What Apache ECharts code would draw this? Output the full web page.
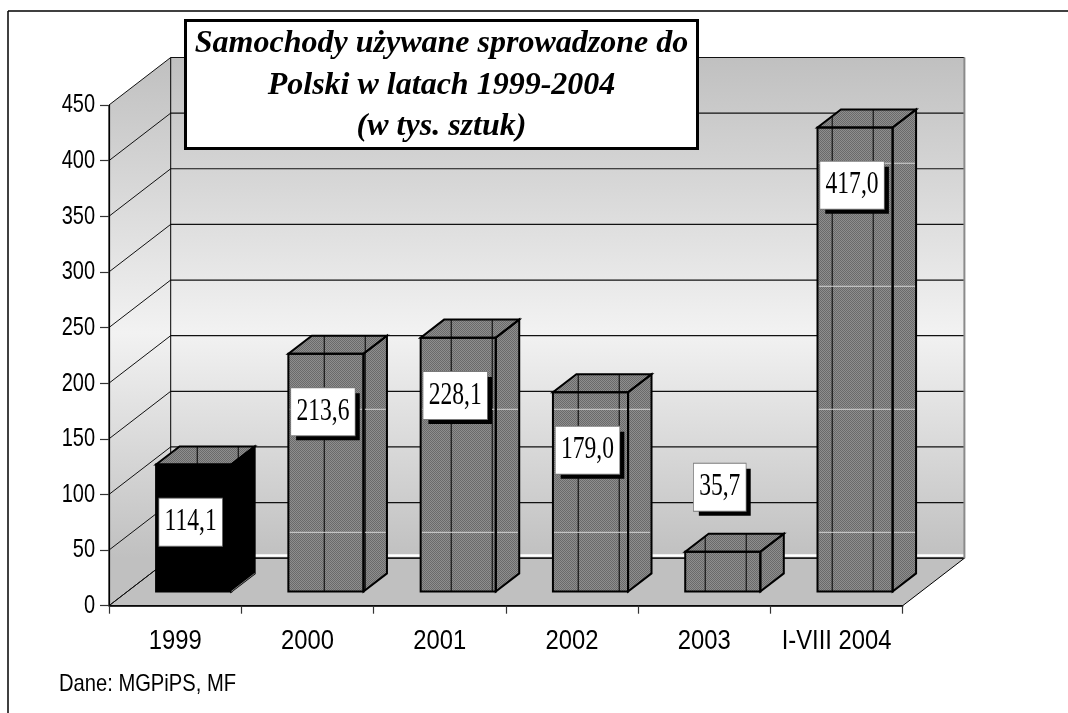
<!DOCTYPE html>
<html><head><meta charset="utf-8">
<script src="https://cdn.jsdelivr.net/npm/echarts@6/dist/echarts.min.js"></script>
<style>html,body{margin:0;padding:0;background:#fff}#c{width:1068px;height:713px}</style>
</head><body><div id="c"></div>
<script>
// ---- data ----
const categories = ['1999', '2000', '2001', '2002', '2003', 'I-VIII 2004'];
const values = [114.1, 213.6, 228.1, 179.0, 35.7, 417.0];
const yTicks = [0, 50, 100, 150, 200, 250, 300, 350, 400, 450];
const titleLines = ['Samochody używane sprowadzone do', 'Polski w latach 1999-2004', '(w tys. sztuk)'];
const sourceNote = 'Dane: MGPiPS, MF';
const highlightCategory = '1999';

// ---- 3D projection / style constants ----
const DX = 61.7, DY = 47.5;          // full depth of floor in px
const Z0 = 0.3, Z1 = 0.68;           // bar depth range
const BAR_W = 0.568;                 // bar width as share of category
const LABEL_DROP = 52, LABEL_RISE = 58;
const SANS = '"Liberation Sans", Arial, sans-serif';
const SERIF = '"Liberation Serif", "Times New Roman", serif';

function makeChecker() {
  const c = document.createElement('canvas'); c.width = 2; c.height = 2;
  const g = c.getContext('2d');
  g.fillStyle = '#8e8e8e'; g.fillRect(0, 0, 2, 2);
  g.fillStyle = '#6a6a6a'; g.fillRect(0, 0, 1, 1); g.fillRect(1, 1, 1, 1);
  return c;
}
const checker = { image: makeChecker(), repeat: 'repeat' };

function wallsRender(params, api) {
  const n = categories.length;
  const catW = api.size([1, 0])[0];
  const xL = api.coord([0, 0])[0] - catW / 2;
  const xR = api.coord([n - 1, 0])[0] + catW / 2;
  const yv = v => api.coord([0, v])[1];
  const vMax = yTicks[yTicks.length - 1];
  const y0 = yv(0), yT = yv(vMax);
  const grad = new echarts.graphic.LinearGradient(0, yT - DY, 0, y0 - DY, [
    { offset: 0, color: '#c0c0c0' }, { offset: 0.55, color: '#f2f2f2' }, { offset: 1, color: '#c0c0c0' }], true);
  const ch = [];
  ch.push({ type: 'rect', shape: { x: xL + DX, y: yT - DY, width: xR - xL, height: y0 - yT }, style: { fill: grad } });
  ch.push({ type: 'polygon', shape: { points: [[xL, yT], [xL, y0], [xL + DX, y0 - DY], [xL + DX, yT - DY]] }, style: { fill: grad } });
  ch.push({ type: 'polygon', shape: { points: [[xL, y0], [xR, y0], [xR + DX, y0 - DY], [xL + DX, y0 - DY]] }, style: { fill: '#c0c0c0', stroke: '#000', lineWidth: 1 } });
  ch.push({ type: 'line', shape: { x1: xL + DX, y1: y0 - DY - 2.8, x2: xR + DX, y2: y0 - DY - 2.8 }, style: { stroke: '#fff', lineWidth: 2.5 } });
  yTicks.forEach(v => {
    const y = yv(v);
    ch.push({ type: 'line', shape: { x1: xL, y1: y, x2: xL + DX, y2: y - DY }, style: { stroke: '#111', lineWidth: 1 } });
    ch.push({ type: 'line', shape: { x1: xL + DX, y1: y - DY, x2: xR + DX, y2: y - DY }, style: { stroke: '#111', lineWidth: 1.2 } });
    // y tick label (narrow sans)
    ch.push({ type: 'text', x: xL - 14, y: y + 0.5, scaleX: 0.8, style: { text: String(v), font: '25px ' + SANS, fill: '#000', align: 'right', verticalAlign: 'middle' } });
  });
  categories.forEach((c, i) => {
    const p = api.coord([i, 0]);
    ch.push({ type: 'text', x: p[0], y: y0 + 36, scaleX: 0.85, style: { text: c, font: '28px ' + SANS, fill: '#000', align: 'center', verticalAlign: 'middle' } });
  });
  ch.push({ type: 'line', shape: { x1: xL + DX, y1: yT - DY, x2: xL + DX, y2: y0 - DY }, style: { stroke: '#000', lineWidth: 1 } });
  ch.push({ type: 'line', shape: { x1: xR + DX, y1: yT - DY, x2: xR + DX, y2: y0 - DY }, style: { stroke: '#8a8a8a', lineWidth: 2 } });
  ch.push({ type: 'line', shape: { x1: xL, y1: yT, x2: xL, y2: y0 }, style: { stroke: '#000', lineWidth: 1.2 } });
  return { type: 'group', children: ch };
}

function barRender(params, api) {
  const i = api.value(0), v = api.value(1);
  const catW = api.size([1, 0])[0];
  const base = api.coord([i, 0]), top = api.coord([i, v]);
  const plotLeft = api.coord([0, 0])[0] - catW / 2;
  const w = catW * BAR_W;
  const xl = base[0] - w / 2 + Z0 * DX, xr = xl + w;
  const yb = base[1] - Z0 * DY, yt = top[1] - Z0 * DY;
  const dx = (Z1 - Z0) * DX, dy = (Z1 - Z0) * DY;
  const dark = categories[i] === highlightCategory;
  const front = [[xl, yt], [xr, yt], [xr, yb], [xl, yb]];
  const side = [[xr, yb], [xr, yt], [xr + dx, yt - dy], [xr + dx, yb - dy]];
  const topF = [[xl, yt], [xr, yt], [xr + dx, yt - dy], [xl + dx, yt - dy]];
  const ch = [];
  ch.push({ type: 'polygon', shape: { points: front }, style: { fill: dark ? '#000' : checker } });
  ch.push({ type: 'polygon', shape: { points: side }, style: { fill: dark ? '#000' : checker } });
  ch.push({ type: 'polygon', shape: { points: topF }, style: { fill: checker } });
  // fine vertical stripes of the fill pattern
  const period = catW * 0.96, phases = [catW * 0.667, catW * 0.977];
  phases.forEach(ph => {
    for (let k = 0; k < categories.length + 1; k++) {
      const x = plotLeft + ph + period * k;
      if (x <= xl + 1.5 || x >= xr + dx - 1.5) continue;
      const up = x < xl + dx ? yt - dy * (x - xl) / dx : yt - dy;
      let lo = x <= xr ? yb : yb - dy * (x - xr) / dx;
      if (dark) lo = x <= xr ? yt : yt - dy * (x - xr) / dx;
      ch.push({ type: 'line', shape: { x1: x, y1: up, x2: x, y2: lo }, style: { stroke: '#000', lineWidth: 1 } });
    }
  });
  // faint light horizontal lines of the fill pattern
  if (!dark) {
    const per = catW * 0.93;
    for (let k = 0; k < 8; k++) {
      const y = yb - catW * 0.447 - per * k;
      if (y <= yt + 1.5 || y >= yb - 1.5) continue;
      ch.push({ type: 'line', shape: { x1: xl + 1, y1: y, x2: xr - 1, y2: y }, style: { stroke: '#d4d4d4', lineWidth: 1 } });
      if (y >= yt) {
        const xe = Math.min(xr + dx - 1, xr + dx * (yb - y) / dy - 1);
        ch.push({ type: 'line', shape: { x1: xr + 1, y1: y, x2: xe, y2: y }, style: { stroke: '#d4d4d4', lineWidth: 1 } });
      }
    }
  }
  const edge = { fill: null, stroke: '#000', lineWidth: 2, lineJoin: 'miter' };
  ch.push({ type: 'polygon', shape: { points: front }, style: edge });
  ch.push({ type: 'polygon', shape: { points: side }, style: edge });
  ch.push({ type: 'polygon', shape: { points: topF }, style: edge });
  if (dark) {
    ch.push({ type: 'line', shape: { x1: xr, y1: yb, x2: xr + dx, y2: yb - dy }, style: { stroke: '#777', lineWidth: 1 } });
  }
  // value label box with hard shadow
  const txt = v.toFixed(1).replace('.', ',');
  const lv = v >= 60 ? v - LABEL_DROP : v + LABEL_RISE;
  const ly = api.coord([i, lv])[1] - Z0 * DY;
  const lx = (xl + xr) / 2 - 3;
  const ts = {
    text: txt, font: '31px ' + SERIF, align: 'center', verticalAlign: 'middle',
    padding: [9, 7, 7, 7]
  };
  ch.push({ type: 'text', x: lx + 5, y: ly + 5, scaleX: 0.76, style: Object.assign({}, ts, { fill: '#000', backgroundColor: '#000' }) });
  ch.push({ type: 'text', x: lx, y: ly, scaleX: 0.76, style: Object.assign({}, ts, { fill: '#000', backgroundColor: '#fff', borderColor: '#7a7a7a', borderWidth: 1 }) });
  return { type: 'group', children: ch };
}

const chart = echarts.init(document.getElementById('c'), null, { renderer: 'canvas' });
chart.setOption({
  animation: false,
  backgroundColor: '#fff',
  grid: { left: 109, right: 165.3, top: 105, bottom: 107.3, containLabel: false },
  xAxis: {
    type: 'category', data: categories, boundaryGap: true,
    axisLine: { show: true, lineStyle: { color: '#000', width: 1.5 } },
    axisTick: { show: true, length: 8, interval: 0, lineStyle: { color: '#333', width: 1.2 } },
    axisLabel: { show: false },
    splitLine: { show: false }, z: 5
  },
  yAxis: {
    type: 'value', min: yTicks[0], max: yTicks[yTicks.length - 1], interval: yTicks[1] - yTicks[0],
    axisLine: { show: true, lineStyle: { color: '#000', width: 1.2 } },
    axisTick: { show: true, length: 9, lineStyle: { color: '#333', width: 1.2 } },
    axisLabel: { show: false },
    splitLine: { show: false }, z: 5
  },
  series: [
    { type: 'custom', z: 1, clip: false, silent: true, data: [[0, 0]], encode: { x: 0, y: 1 }, renderItem: wallsRender },
    { type: 'custom', z: 3, clip: false, silent: true, data: values.map((v, i) => [i, v]), encode: { x: 0, y: 1 }, renderItem: barRender }
  ],
  graphic: [
    { type: 'line', z: 10, shape: { x1: 8, y1: 11, x2: 1068, y2: 11 }, style: { stroke: '#000', lineWidth: 1.5 } },
    { type: 'line', z: 10, shape: { x1: 8, y1: 11, x2: 8, y2: 713 }, style: { stroke: '#000', lineWidth: 1.5 } },
    { type: 'rect', z: 20, shape: { x: 185.5, y: 20.5, width: 512, height: 128 }, style: { fill: '#fff', stroke: '#000', lineWidth: 3 } },
    { type: 'text', z: 21, x: 441.5, y: 44, style: { text: titleLines[0], font: 'italic bold 32px ' + SERIF, fill: '#000', align: 'center', verticalAlign: 'middle' } },
    { type: 'text', z: 21, x: 441.5, y: 85.5, style: { text: titleLines[1], font: 'italic bold 32px ' + SERIF, fill: '#000', align: 'center', verticalAlign: 'middle' } },
    { type: 'text', z: 21, x: 441.5, y: 127, style: { text: titleLines[2], font: 'italic bold 32px ' + SERIF, fill: '#000', align: 'center', verticalAlign: 'middle' } },
    { type: 'text', z: 21, x: 59, y: 684, scaleX: 0.84, style: { text: sourceNote, font: '24px ' + SANS, fill: '#000', align: 'left', verticalAlign: 'middle' } }
  ]
});
</script>
</body></html>
